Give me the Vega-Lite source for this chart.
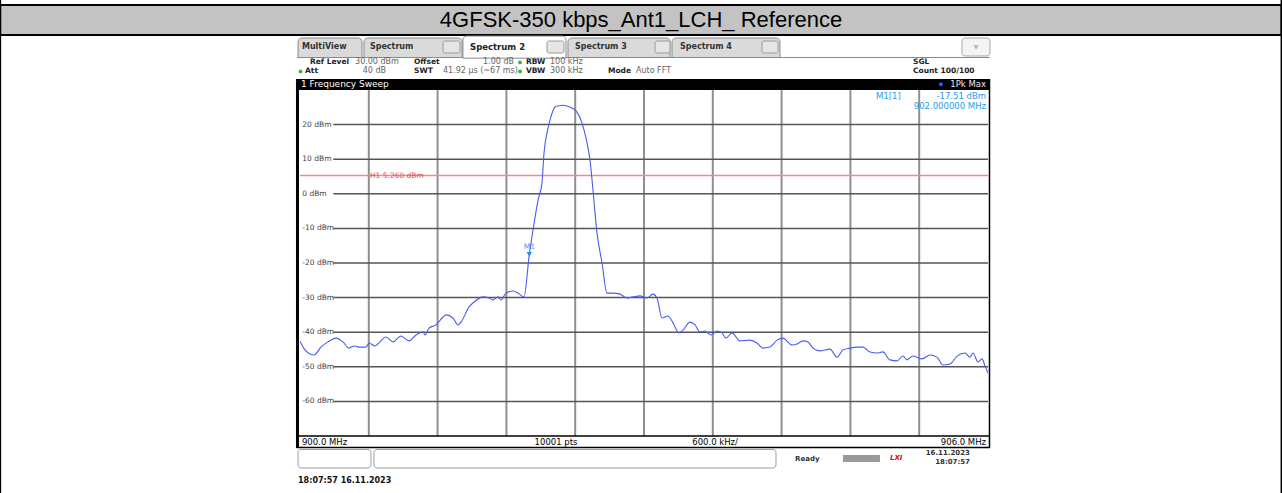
{
"$schema": "https://vega.github.io/schema/vega-lite/v6.json",
"width": 688, "height": 346,
"autosize": {"type": "none"},
"padding": {"left": 300, "top": 90, "right": 294, "bottom": 57},
"background": "white",
"config": {"view": {"stroke": null}},
"datasets": {
"trace": [
{"f":900.000,"p":-42.6},{"f":900.044,"p":-45.1},{"f":900.122,"p":-46.6},{"f":900.183,"p":-44.3},{"f":900.244,"p":-42.8},{"f":900.314,"p":-41.7},{"f":900.375,"p":-42.8},{"f":900.427,"p":-44.6},{"f":900.471,"p":-44.0},{"f":900.515,"p":-44.3},{"f":900.576,"p":-44.3},{"f":900.602,"p":-43.1},{"f":900.654,"p":-44.0},{"f":900.689,"p":-43.1},{"f":900.750,"p":-41.4},{"f":900.811,"p":-42.8},{"f":900.881,"p":-41.1},{"f":900.951,"p":-42.5},{"f":901.012,"p":-40.8},{"f":901.073,"p":-39.9},{"f":901.090,"p":-40.8},{"f":901.125,"p":-38.8},{"f":901.186,"p":-37.9},{"f":901.247,"p":-35.6},{"f":901.273,"p":-35.0},{"f":901.334,"p":-35.9},{"f":901.378,"p":-37.9},{"f":901.404,"p":-37.1},{"f":901.474,"p":-32.7},{"f":901.517,"p":-31.3},{"f":901.596,"p":-29.8},{"f":901.648,"p":-30.1},{"f":901.683,"p":-30.7},{"f":901.727,"p":-29.8},{"f":901.753,"p":-30.7},{"f":901.796,"p":-28.7},{"f":901.858,"p":-28.1},{"f":901.901,"p":-28.7},{"f":901.953,"p":-29.8},{"f":902.000,"p":-17.51},{"f":902.032,"p":-10.5},{"f":902.076,"p":-1.8},{"f":902.110,"p":3.1},{"f":902.128,"p":11.8},{"f":902.154,"p":17.6},{"f":902.180,"p":21.3},{"f":902.224,"p":25.1},{"f":902.250,"p":25.4},{"f":902.290,"p":25.6},{"f":902.328,"p":25.4},{"f":902.372,"p":24.8},{"f":902.416,"p":23.6},{"f":902.459,"p":20.5},{"f":902.503,"p":14.7},{"f":902.529,"p":9.8},{"f":902.555,"p":1.1},{"f":902.590,"p":-11.3},{"f":902.634,"p":-20.0},{"f":902.677,"p":-28.7},{"f":902.730,"p":-28.7},{"f":902.791,"p":-29.0},{"f":902.852,"p":-30.1},{"f":902.904,"p":-29.8},{"f":902.965,"p":-29.5},{"f":903.026,"p":-30.1},{"f":903.078,"p":-29.0},{"f":903.113,"p":-30.1},{"f":903.157,"p":-35.9},{"f":903.209,"p":-35.3},{"f":903.253,"p":-37.3},{"f":903.305,"p":-40.2},{"f":903.340,"p":-39.4},{"f":903.401,"p":-37.1},{"f":903.445,"p":-37.9},{"f":903.488,"p":-39.9},{"f":903.532,"p":-39.7},{"f":903.584,"p":-40.8},{"f":903.637,"p":-39.7},{"f":903.680,"p":-40.2},{"f":903.715,"p":-41.7},{"f":903.767,"p":-40.2},{"f":903.837,"p":-42.5},{"f":903.924,"p":-42.3},{"f":903.985,"p":-43.1},{"f":904.038,"p":-44.6},{"f":904.099,"p":-44.3},{"f":904.160,"p":-42.3},{"f":904.212,"p":-41.7},{"f":904.291,"p":-43.7},{"f":904.334,"p":-43.4},{"f":904.387,"p":-42.5},{"f":904.430,"p":-42.8},{"f":904.474,"p":-44.6},{"f":904.535,"p":-45.4},{"f":904.622,"p":-44.9},{"f":904.683,"p":-47.2},{"f":904.735,"p":-45.1},{"f":904.796,"p":-44.6},{"f":904.857,"p":-44.3},{"f":904.910,"p":-44.3},{"f":904.971,"p":-45.7},{"f":905.032,"p":-46.0},{"f":905.084,"p":-45.7},{"f":905.145,"p":-48.0},{"f":905.206,"p":-48.3},{"f":905.259,"p":-46.9},{"f":905.294,"p":-48.0},{"f":905.346,"p":-46.9},{"f":905.424,"p":-47.7},{"f":905.494,"p":-46.6},{"f":905.555,"p":-47.2},{"f":905.607,"p":-49.5},{"f":905.669,"p":-49.2},{"f":905.730,"p":-46.9},{"f":905.799,"p":-46.0},{"f":905.843,"p":-47.2},{"f":905.869,"p":-46.0},{"f":905.913,"p":-48.6},{"f":905.948,"p":-47.7},{"f":905.974,"p":-49.8},{"f":906.000,"p":-51.8}
],
"hgrid": [
{"lv":20,"lab":"20 dBm"},{"lv":10,"lab":"10 dBm"},{"lv":0,"lab":"0 dBm"},{"lv":-10,"lab":"-10 dBm"},{"lv":-20,"lab":"-20 dBm"},{"lv":-30,"lab":"-30 dBm"},{"lv":-40,"lab":"-40 dBm"},{"lv":-50,"lab":"-50 dBm"},{"lv":-60,"lab":"-60 dBm"}
],
"vgrid": [
{"fv":900.6},{"fv":901.2},{"fv":901.8},{"fv":902.4},{"fv":903.0},{"fv":903.6},{"fv":904.2},{"fv":904.8},{"fv":905.4}
],
"marker": [{"name":"M1","f":902.0,"p":-17.51}],
"limit": [{"name":"H1","lv":5.26,"lab":"H1  5.260 dBm"}]
},
"layer": [
{"data":{"values":[{"t":"4GFSK-350 kbps_Ant1_LCH_ Reference"}]},"mark":{"type":"rect","fill":"#c3c3c3","stroke":"#000","strokeWidth":2},
 "encoding":{"x":{"datum":897.385,"type":"quantitative","scale":{"domain":[900,906],"nice":false,"zero":false},"axis":null},"x2":{"datum":908.56},"y":{"datum":54.57,"type":"quantitative","scale":{"domain":[-70,30],"nice":false,"zero":false},"axis":null},"y2":{"datum":45.9}}},
{"data":{"values":[{"t":"4GFSK-350 kbps_Ant1_LCH_ Reference"}]},"mark":{"type":"text","align":"center","baseline":"middle","font":"Liberation Sans","fontSize":22,"color":"#000"},
 "encoding":{"x":{"datum":902.974,"type":"quantitative"},"y":{"datum":50.23,"type":"quantitative"},"text":{"field":"t"}}},
{"data":{"values":[{"t":"border"}]},"mark":{"type":"rule","color":"#000","strokeWidth":2},
 "encoding":{"x":{"datum":897.385,"type":"quantitative"},"y":{"datum":56.1,"type":"quantitative"},"y2":{"datum":-87}}},
{"data":{"values":[{"t":"border"}]},"mark":{"type":"rule","color":"#000","strokeWidth":2},
 "encoding":{"x":{"datum":908.56,"type":"quantitative"},"y":{"datum":56.1,"type":"quantitative"},"y2":{"datum":-87}}},

{"data":{"values":[{"t":"MultiView"}]},"mark":{"type":"rect","fill":"#dadada","stroke":"#8a8a8a","strokeWidth":1,"cornerRadiusTopLeft":4,"cornerRadiusTopRight":4},
 "encoding":{"x":{"datum":899.983,"type":"quantitative"},"x2":{"datum":900.541},"y":{"datum":45.03,"type":"quantitative"},"y2":{"datum":39.39}}},
{"data":{"values":[{"t":"Spectrum"}]},"mark":{"type":"rect","fill":"#dadada","stroke":"#8a8a8a","strokeWidth":1,"cornerRadiusTopLeft":4,"cornerRadiusTopRight":4},
 "encoding":{"x":{"datum":900.558,"type":"quantitative"},"x2":{"datum":901.413},"y":{"datum":45.03,"type":"quantitative"},"y2":{"datum":39.39}}},
{"data":{"values":[{"t":"Spectrum 3"}]},"mark":{"type":"rect","fill":"#dadada","stroke":"#8a8a8a","strokeWidth":1,"cornerRadiusTopLeft":4,"cornerRadiusTopRight":4},
 "encoding":{"x":{"datum":902.337,"type":"quantitative"},"x2":{"datum":903.227},"y":{"datum":45.03,"type":"quantitative"},"y2":{"datum":39.39}}},
{"data":{"values":[{"t":"Spectrum 4"}]},"mark":{"type":"rect","fill":"#dadada","stroke":"#8a8a8a","strokeWidth":1,"cornerRadiusTopLeft":4,"cornerRadiusTopRight":4},
 "encoding":{"x":{"datum":903.244,"type":"quantitative"},"x2":{"datum":904.186},"y":{"datum":45.03,"type":"quantitative"},"y2":{"datum":39.39}}},
{"data":{"values":[{"t":"line"}]},"mark":{"type":"rule","color":"#8a8a8a","strokeWidth":1},
 "encoding":{"x":{"datum":899.974,"type":"quantitative"},"x2":{"datum":906.017},"y":{"datum":39.39,"type":"quantitative"}}},
{"data":{"values":[{"t":"Spectrum 2"}]},"mark":{"type":"rect","fill":"#ffffff","stroke":"#8a8a8a","strokeWidth":1,"cornerRadiusTopLeft":4,"cornerRadiusTopRight":4},
 "encoding":{"x":{"datum":901.421,"type":"quantitative"},"x2":{"datum":902.320},"y":{"datum":45.6,"type":"quantitative"},"y2":{"datum":39.2}}},
{"data":{"values":[{"t":"x"}]},"mark":{"type":"rect","fill":"#e6e6e6","stroke":"#9a9a9a","strokeWidth":1,"cornerRadius":2},
 "encoding":{"x":{"datum":901.247,"type":"quantitative"},"x2":{"datum":901.395},"y":{"datum":44.16,"type":"quantitative"},"y2":{"datum":40.69}}},
{"data":{"values":[{"t":"x"}]},"mark":{"type":"rect","fill":"#e6e6e6","stroke":"#9a9a9a","strokeWidth":1,"cornerRadius":2},
 "encoding":{"x":{"datum":902.154,"type":"quantitative"},"x2":{"datum":902.302},"y":{"datum":44.16,"type":"quantitative"},"y2":{"datum":40.69}}},
{"data":{"values":[{"t":"x"}]},"mark":{"type":"rect","fill":"#e6e6e6","stroke":"#9a9a9a","strokeWidth":1,"cornerRadius":2},
 "encoding":{"x":{"datum":903.096,"type":"quantitative"},"x2":{"datum":903.227},"y":{"datum":44.16,"type":"quantitative"},"y2":{"datum":40.69}}},
{"data":{"values":[{"t":"x"}]},"mark":{"type":"rect","fill":"#e6e6e6","stroke":"#9a9a9a","strokeWidth":1,"cornerRadius":2},
 "encoding":{"x":{"datum":904.029,"type":"quantitative"},"x2":{"datum":904.169},"y":{"datum":44.16,"type":"quantitative"},"y2":{"datum":40.69}}},
{"data":{"values":[{"t":"▼"}]},"mark":{"type":"rect","fill":"#f4f4f4","stroke":"#aaaaaa","strokeWidth":1,"cornerRadius":3},
 "encoding":{"x":{"datum":905.773,"type":"quantitative"},"x2":{"datum":906.017},"y":{"datum":45.03,"type":"quantitative"},"y2":{"datum":39.83}}},
{"data":{"values":[{"t":"▼"}]},"mark":{"type":"text","align":"center","baseline":"middle","font":"DejaVu Sans","fontSize":6,"color":"#b0b0b0"},
 "encoding":{"x":{"datum":905.895,"type":"quantitative"},"y":{"datum":42.43,"type":"quantitative"},"text":{"field":"t"}}},
{"data":{"values":[{"t":"MultiView"}]},"mark":{"type":"text","align":"left","baseline":"middle","font":"DejaVu Sans","fontSize":8,"fontWeight":"bold","color":"#333"},
 "encoding":{"x":{"datum":900.017,"type":"quantitative"},"y":{"datum":42.43,"type":"quantitative"},"text":{"field":"t"}}},
{"data":{"values":[{"t":"Spectrum"}]},"mark":{"type":"text","align":"left","baseline":"middle","font":"DejaVu Sans","fontSize":8,"fontWeight":"bold","color":"#333"},
 "encoding":{"x":{"datum":900.61,"type":"quantitative"},"y":{"datum":42.43,"type":"quantitative"},"text":{"field":"t"}}},
{"data":{"values":[{"t":"Spectrum 2"}]},"mark":{"type":"text","align":"left","baseline":"middle","font":"DejaVu Sans","fontSize":8.5,"fontWeight":"bold","color":"#222"},
 "encoding":{"x":{"datum":901.483,"type":"quantitative"},"y":{"datum":42.43,"type":"quantitative"},"text":{"field":"t"}}},
{"data":{"values":[{"t":"Spectrum 3"}]},"mark":{"type":"text","align":"left","baseline":"middle","font":"DejaVu Sans","fontSize":8,"fontWeight":"bold","color":"#333"},
 "encoding":{"x":{"datum":902.398,"type":"quantitative"},"y":{"datum":42.43,"type":"quantitative"},"text":{"field":"t"}}},
{"data":{"values":[{"t":"Spectrum 4"}]},"mark":{"type":"text","align":"left","baseline":"middle","font":"DejaVu Sans","fontSize":8,"fontWeight":"bold","color":"#333"},
 "encoding":{"x":{"datum":903.314,"type":"quantitative"},"y":{"datum":42.43,"type":"quantitative"},"text":{"field":"t"}}},

{"data":{"values":[{"t":"Ref Level"}]},"mark":{"type":"text","align":"left","baseline":"middle","font":"DejaVu Sans","fontSize":7.5,"fontWeight":"bold","color":"#222"},
 "encoding":{"x":{"datum":900.087,"type":"quantitative"},"y":{"datum":37.95,"type":"quantitative"},"text":{"field":"t"}}},
{"data":{"values":[{"t":"30.00 dBm"}]},"mark":{"type":"text","align":"left","baseline":"middle","font":"DejaVu Sans","fontSize":8,"color":"#666"},
 "encoding":{"x":{"datum":900.48,"type":"quantitative"},"y":{"datum":37.95,"type":"quantitative"},"text":{"field":"t"}}},
{"data":{"values":[{"t":"Offset"}]},"mark":{"type":"text","align":"left","baseline":"middle","font":"DejaVu Sans","fontSize":7.5,"fontWeight":"bold","color":"#222"},
 "encoding":{"x":{"datum":900.994,"type":"quantitative"},"y":{"datum":37.95,"type":"quantitative"},"text":{"field":"t"}}},
{"data":{"values":[{"t":"1.00 dB"}]},"mark":{"type":"text","align":"right","baseline":"middle","font":"DejaVu Sans","fontSize":8,"color":"#666"},
 "encoding":{"x":{"datum":901.866,"type":"quantitative"},"y":{"datum":37.95,"type":"quantitative"},"text":{"field":"t"}}},
{"data":{"values":[{"t":"RBW"}]},"mark":{"type":"text","align":"left","baseline":"middle","font":"DejaVu Sans","fontSize":7.5,"fontWeight":"bold","color":"#222"},
 "encoding":{"x":{"datum":901.971,"type":"quantitative"},"y":{"datum":37.95,"type":"quantitative"},"text":{"field":"t"}}},
{"data":{"values":[{"t":"100 kHz"}]},"mark":{"type":"text","align":"left","baseline":"middle","font":"DejaVu Sans","fontSize":8,"color":"#666"},
 "encoding":{"x":{"datum":902.18,"type":"quantitative"},"y":{"datum":37.95,"type":"quantitative"},"text":{"field":"t"}}},
{"data":{"values":[{"t":"SGL"}]},"mark":{"type":"text","align":"left","baseline":"middle","font":"DejaVu Sans","fontSize":7.5,"fontWeight":"bold","color":"#222"},
 "encoding":{"x":{"datum":905.346,"type":"quantitative"},"y":{"datum":37.95,"type":"quantitative"},"text":{"field":"t"}}},
{"data":{"values":[{"t":"Att"}]},"mark":{"type":"text","align":"left","baseline":"middle","font":"DejaVu Sans","fontSize":7.5,"fontWeight":"bold","color":"#222"},
 "encoding":{"x":{"datum":900.044,"type":"quantitative"},"y":{"datum":35.35,"type":"quantitative"},"text":{"field":"t"}}},
{"data":{"values":[{"t":"40 dB"}]},"mark":{"type":"text","align":"right","baseline":"middle","font":"DejaVu Sans","fontSize":8,"color":"#666"},
 "encoding":{"x":{"datum":900.75,"type":"quantitative"},"y":{"datum":35.35,"type":"quantitative"},"text":{"field":"t"}}},
{"data":{"values":[{"t":"SWT"}]},"mark":{"type":"text","align":"left","baseline":"middle","font":"DejaVu Sans","fontSize":7.5,"fontWeight":"bold","color":"#222"},
 "encoding":{"x":{"datum":900.994,"type":"quantitative"},"y":{"datum":35.35,"type":"quantitative"},"text":{"field":"t"}}},
{"data":{"values":[{"t":"41.92 µs (~67 ms)"}]},"mark":{"type":"text","align":"left","baseline":"middle","font":"DejaVu Sans","fontSize":8,"color":"#666"},
 "encoding":{"x":{"datum":901.247,"type":"quantitative"},"y":{"datum":35.35,"type":"quantitative"},"text":{"field":"t"}}},
{"data":{"values":[{"t":"VBW"}]},"mark":{"type":"text","align":"left","baseline":"middle","font":"DejaVu Sans","fontSize":7.5,"fontWeight":"bold","color":"#222"},
 "encoding":{"x":{"datum":901.971,"type":"quantitative"},"y":{"datum":35.35,"type":"quantitative"},"text":{"field":"t"}}},
{"data":{"values":[{"t":"300 kHz"}]},"mark":{"type":"text","align":"left","baseline":"middle","font":"DejaVu Sans","fontSize":8,"color":"#666"},
 "encoding":{"x":{"datum":902.18,"type":"quantitative"},"y":{"datum":35.35,"type":"quantitative"},"text":{"field":"t"}}},
{"data":{"values":[{"t":"Mode"}]},"mark":{"type":"text","align":"left","baseline":"middle","font":"DejaVu Sans","fontSize":7.5,"fontWeight":"bold","color":"#222"},
 "encoding":{"x":{"datum":902.686,"type":"quantitative"},"y":{"datum":35.35,"type":"quantitative"},"text":{"field":"t"}}},
{"data":{"values":[{"t":"Auto FFT"}]},"mark":{"type":"text","align":"left","baseline":"middle","font":"DejaVu Sans","fontSize":8,"color":"#666"},
 "encoding":{"x":{"datum":902.93,"type":"quantitative"},"y":{"datum":35.35,"type":"quantitative"},"text":{"field":"t"}}},
{"data":{"values":[{"t":"Count 100/100"}]},"mark":{"type":"text","align":"left","baseline":"middle","font":"DejaVu Sans","fontSize":7.5,"fontWeight":"bold","color":"#222"},
 "encoding":{"x":{"datum":905.346,"type":"quantitative"},"y":{"datum":35.35,"type":"quantitative"},"text":{"field":"t"}}},
{"data":{"values":[{"t":"dot"}]},"mark":{"type":"point","filled":true,"color":"#2db82d","size":14,"opacity":1},
 "encoding":{"x":{"datum":901.919,"type":"quantitative"},"y":{"datum":37.95,"type":"quantitative"}}},
{"data":{"values":[{"t":"dot"}]},"mark":{"type":"point","filled":true,"color":"#2db82d","size":14,"opacity":1},
 "encoding":{"x":{"datum":901.919,"type":"quantitative"},"y":{"datum":35.35,"type":"quantitative"}}},
{"data":{"values":[{"t":"dot"}]},"mark":{"type":"point","filled":true,"color":"#2db82d","size":14,"opacity":1},
 "encoding":{"x":{"datum":900.005,"type":"quantitative"},"y":{"datum":35.35,"type":"quantitative"}}},

{"data":{"values":[{"t":"bar"}]},"mark":{"type":"rect","fill":"#000"},
 "encoding":{"x":{"datum":899.974,"type":"quantitative"},"x2":{"datum":906.017},"y":{"datum":33.18,"type":"quantitative"},"y2":{"datum":30.0}}},
{"data":{"values":[{"t":"1 Frequency Sweep"}]},"mark":{"type":"text","align":"left","baseline":"middle","font":"DejaVu Sans","fontSize":9,"color":"#fff"},
 "encoding":{"x":{"datum":900.009,"type":"quantitative"},"y":{"datum":31.65,"type":"quantitative"},"text":{"field":"t"}}},
{"data":{"values":[{"t":"1Pk Max"}]},"mark":{"type":"text","align":"right","baseline":"middle","font":"DejaVu Sans","fontSize":8.5,"color":"#e8e8e8"},
 "encoding":{"x":{"datum":905.983,"type":"quantitative"},"y":{"datum":31.65,"type":"quantitative"},"text":{"field":"t"}}},
{"data":{"values":[{"t":"dot"}]},"mark":{"type":"point","filled":true,"color":"#2060ff","size":16,"opacity":1},
 "encoding":{"x":{"datum":905.59,"type":"quantitative"},"y":{"datum":31.65,"type":"quantitative"}}},

{"data":{"name":"vgrid"},"mark":{"type":"rule","color":"#8f8f8f","strokeWidth":2},
 "encoding":{"x":{"field":"fv","type":"quantitative"},"y":{"datum":30,"type":"quantitative"},"y2":{"datum":-70}}},
{"data":{"name":"hgrid"},"mark":{"type":"rule","color":"#555555","strokeWidth":1.5},
 "encoding":{"x":{"datum":900.29,"type":"quantitative"},"x2":{"datum":906},"y":{"field":"lv","type":"quantitative"}}},
{"data":{"name":"hgrid"},"mark":{"type":"text","align":"left","baseline":"middle","font":"DejaVu Sans","fontSize":7.5,"color":"#444"},
 "encoding":{"x":{"datum":900.02,"type":"quantitative"},"y":{"field":"lv","type":"quantitative"},"text":{"field":"lab"}}},
{"data":{"name":"limit"},"mark":{"type":"rule","color":"#f28a8a","strokeWidth":1.5},
 "encoding":{"x":{"datum":900,"type":"quantitative"},"x2":{"datum":906},"y":{"field":"lv","type":"quantitative"}}},
{"data":{"name":"limit"},"mark":{"type":"text","align":"left","baseline":"middle","font":"DejaVu Sans","fontSize":7.5,"color":"#e55050"},
 "encoding":{"x":{"datum":900.61,"type":"quantitative"},"y":{"field":"lv","type":"quantitative"},"text":{"field":"lab"}}},

{"data":{"name":"trace"},"mark":{"type":"line","color":"#4a5cf0","strokeWidth":1.1,"interpolate":"monotone","clip":true},
 "encoding":{"x":{"field":"f","type":"quantitative"},"y":{"field":"p","type":"quantitative"}}},
{"data":{"name":"marker"},"mark":{"type":"point","shape":"triangle-down","filled":true,"color":"#1e8fe0","size":28,"opacity":1},
 "encoding":{"x":{"field":"f","type":"quantitative"},"y":{"field":"p","type":"quantitative"}}},
{"data":{"name":"marker"},"mark":{"type":"text","align":"center","baseline":"bottom","dy":-3,"font":"DejaVu Sans","fontSize":7.5,"color":"#3aa0e8"},
 "encoding":{"x":{"field":"f","type":"quantitative"},"y":{"field":"p","type":"quantitative"},"text":{"field":"name"}}},
{"data":{"values":[{"t":"M1[1]"}]},"mark":{"type":"text","align":"left","baseline":"middle","font":"DejaVu Sans","fontSize":8.5,"color":"#1f9de8"},
 "encoding":{"x":{"datum":905.023,"type":"quantitative"},"y":{"datum":28.27,"type":"quantitative"},"text":{"field":"t"}}},
{"data":{"values":[{"t":"-17.51 dBm"}]},"mark":{"type":"text","align":"right","baseline":"middle","font":"DejaVu Sans","fontSize":8.5,"color":"#1f9de8"},
 "encoding":{"x":{"datum":905.983,"type":"quantitative"},"y":{"datum":28.27,"type":"quantitative"},"text":{"field":"t"}}},
{"data":{"values":[{"t":"902.000000 MHz"}]},"mark":{"type":"text","align":"right","baseline":"middle","font":"DejaVu Sans","fontSize":8.5,"color":"#1f9de8"},
 "encoding":{"x":{"datum":905.983,"type":"quantitative"},"y":{"datum":25.38,"type":"quantitative"},"text":{"field":"t"}}},

{"data":{"values":[{"t":"frame"}]},"mark":{"type":"rule","color":"#000","strokeWidth":1.5},
 "encoding":{"x":{"datum":899.974,"type":"quantitative"},"x2":{"datum":906.017},"y":{"datum":-70,"type":"quantitative"}}},
{"data":{"values":[{"t":"frame"}]},"mark":{"type":"rule","color":"#000","strokeWidth":1.5},
 "encoding":{"x":{"datum":899.974,"type":"quantitative"},"x2":{"datum":906.017},"y":{"datum":-73.32,"type":"quantitative"}}},
{"data":{"values":[{"t":"frame"}]},"mark":{"type":"rule","color":"#000","strokeWidth":3},
 "encoding":{"x":{"datum":899.978,"type":"quantitative"},"y":{"datum":33.18,"type":"quantitative"},"y2":{"datum":-73.47}}},
{"data":{"values":[{"t":"frame"}]},"mark":{"type":"rule","color":"#000","strokeWidth":1.5},
 "encoding":{"x":{"datum":906.013,"type":"quantitative"},"y":{"datum":33.18,"type":"quantitative"},"y2":{"datum":-73.47}}},
{"data":{"values":[{"t":"900.0 MHz"}]},"mark":{"type":"text","align":"left","baseline":"middle","font":"DejaVu Sans","fontSize":8.5,"color":"#000"},
 "encoding":{"x":{"datum":900.017,"type":"quantitative"},"y":{"datum":-71.73,"type":"quantitative"},"text":{"field":"t"}}},
{"data":{"values":[{"t":"10001 pts"}]},"mark":{"type":"text","align":"center","baseline":"middle","font":"DejaVu Sans","fontSize":8.5,"color":"#000"},
 "encoding":{"x":{"datum":902.233,"type":"quantitative"},"y":{"datum":-71.73,"type":"quantitative"},"text":{"field":"t"}}},
{"data":{"values":[{"t":"600.0 kHz/"}]},"mark":{"type":"text","align":"center","baseline":"middle","font":"DejaVu Sans","fontSize":8.5,"color":"#000"},
 "encoding":{"x":{"datum":903.62,"type":"quantitative"},"y":{"datum":-71.73,"type":"quantitative"},"text":{"field":"t"}}},
{"data":{"values":[{"t":"906.0 MHz"}]},"mark":{"type":"text","align":"right","baseline":"middle","font":"DejaVu Sans","fontSize":8.5,"color":"#000"},
 "encoding":{"x":{"datum":905.983,"type":"quantitative"},"y":{"datum":-71.73,"type":"quantitative"},"text":{"field":"t"}}},

{"data":{"values":[{"t":"box"}]},"mark":{"type":"rect","fill":"#ffffff","stroke":"#a0a0a0","strokeWidth":1,"cornerRadius":3},
 "encoding":{"x":{"datum":899.983,"type":"quantitative"},"x2":{"datum":900.619},"y":{"datum":-73.9,"type":"quantitative"},"y2":{"datum":-79.25}}},
{"data":{"values":[{"t":"box"}]},"mark":{"type":"rect","fill":"#ffffff","stroke":"#a0a0a0","strokeWidth":1,"cornerRadius":3},
 "encoding":{"x":{"datum":900.645,"type":"quantitative"},"x2":{"datum":904.151},"y":{"datum":-73.9,"type":"quantitative"},"y2":{"datum":-79.25}}},
{"data":{"values":[{"t":"Ready"}]},"mark":{"type":"text","align":"left","baseline":"middle","font":"DejaVu Sans","fontSize":7,"fontWeight":"bold","color":"#333"},
 "encoding":{"x":{"datum":904.317,"type":"quantitative"},"y":{"datum":-76.65,"type":"quantitative"},"text":{"field":"t"}}},
{"data":{"values":[{"t":"bar"}]},"mark":{"type":"rect","fill":"#9a9a9a"},
 "encoding":{"x":{"datum":904.735,"type":"quantitative"},"x2":{"datum":905.058},"y":{"datum":-75.5,"type":"quantitative"},"y2":{"datum":-77.5}}},
{"data":{"values":[{"t":"LXI"}]},"mark":{"type":"text","align":"left","baseline":"middle","font":"DejaVu Sans","fontSize":7,"fontWeight":"bold","fontStyle":"italic","color":"#d01010"},
 "encoding":{"x":{"datum":905.145,"type":"quantitative"},"y":{"datum":-76.4,"type":"quantitative"},"text":{"field":"t"}}},
{"data":{"values":[{"t":"16.11.2023"}]},"mark":{"type":"text","align":"right","baseline":"middle","font":"DejaVu Sans","fontSize":7,"fontWeight":"bold","color":"#333"},
 "encoding":{"x":{"datum":905.843,"type":"quantitative"},"y":{"datum":-74.91,"type":"quantitative"},"text":{"field":"t"}}},
{"data":{"values":[{"t":"18:07:57"}]},"mark":{"type":"text","align":"right","baseline":"middle","font":"DejaVu Sans","fontSize":7,"fontWeight":"bold","color":"#333"},
 "encoding":{"x":{"datum":905.843,"type":"quantitative"},"y":{"datum":-77.51,"type":"quantitative"},"text":{"field":"t"}}},
{"data":{"values":[{"t":"18:07:57  16.11.2023"}]},"mark":{"type":"text","align":"left","baseline":"middle","font":"DejaVu Sans","fontSize":8,"fontWeight":"bold","color":"#111"},
 "encoding":{"x":{"datum":899.983,"type":"quantitative"},"y":{"datum":-83.0,"type":"quantitative"},"text":{"field":"t"}}}
]
}
